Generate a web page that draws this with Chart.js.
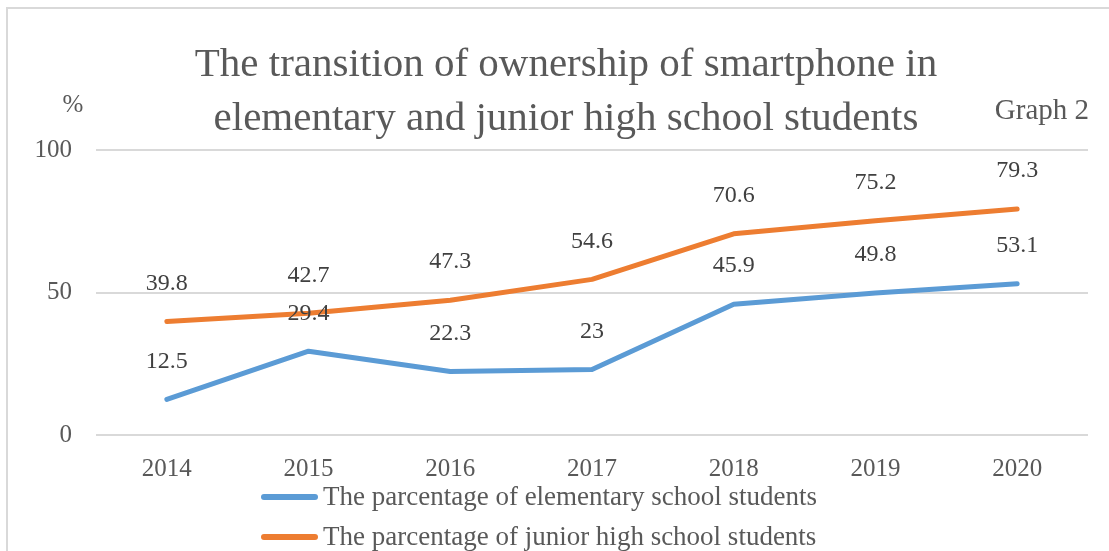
<!DOCTYPE html>
<html>
<head>
<meta charset="utf-8">
<script src="https://cdn.jsdelivr.net/npm/chart.js@4"></script>
<style>
  body { margin: 0; background: #fff; overflow: hidden; }
  #frame { position: absolute; left: 6px; top: 7px; width: 1300px; height: 700px; border: 2px solid #d9d9d9; }
  #wrap { position: absolute; left: 0; top: 0; }
</style>
</head>
<body>
<div id="frame"></div>
<div id="wrap"><canvas id="chart" width="1109" height="551"></canvas></div>
<script>
const years = ["2014", "2015", "2016", "2017", "2018", "2019", "2020"];
const elementary = [12.5, 29.4, 22.3, 23, 45.9, 49.8, 53.1];
const juniorHigh = [39.8, 42.7, 47.3, 54.6, 70.6, 75.2, 79.3];
const seriesNames = ["The parcentage of elementary school students", "The parcentage of junior high school students"];
const titleLines = ["The transition of ownership of smartphone in", "elementary and junior high school students"];
const yTicks = [0, 50, 100];

const FONT = "'Liberation Serif', 'DejaVu Serif', serif";
const GREY = "#595959";

// title, value labels, "%", "Graph 2" and the two-row legend
const extras = {
    id: "extras",
    afterDatasetsDraw(chart) {
        const ctx = chart.ctx;
        ctx.save();
        ctx.textAlign = "center";

        ctx.fillStyle = GREY;
        ctx.font = "41px " + FONT;
        ctx.textBaseline = "alphabetic";
        ctx.fillText(titleLines[0], 566, 76);
        ctx.fillText(titleLines[1], 566, 130);

        ctx.textBaseline = "middle";
        ctx.font = "24px " + FONT;
        ctx.fillStyle = "#404040";
        chart.data.datasets.forEach((ds, i) => {
            chart.getDatasetMeta(i).data.forEach((pt, j) => {
                ctx.fillText(String(ds.data[j]), pt.x, pt.y - 38);
            });
        });

        ctx.fillStyle = GREY;
        ctx.font = "25px " + FONT;
        ctx.fillText("%", 73, 105);
        ctx.textAlign = "right";
        ctx.font = "29px " + FONT;
        ctx.fillText("Graph 2", 1089, 111);

        // legend
        ctx.textAlign = "left";
        ctx.font = "27px " + FONT;
        ctx.lineCap = "round";
        ctx.lineWidth = 6;
        chart.data.datasets.forEach((ds, i) => {
            const y = 497 + i * 40;
            ctx.strokeStyle = ds.borderColor;
            ctx.beginPath();
            ctx.moveTo(264, y);
            ctx.lineTo(315, y);
            ctx.stroke();
            ctx.fillStyle = GREY;
            ctx.fillText(ds.label, 323, y + 1);
        });
        ctx.restore();
    }
};

new Chart(document.getElementById("chart"), {
    type: "line",
    data: {
        labels: years,
        datasets: [
            { label: seriesNames[0], data: elementary, borderColor: "#5b9bd5", backgroundColor: "#5b9bd5" },
            { label: seriesNames[1], data: juniorHigh, borderColor: "#ed7d31", backgroundColor: "#ed7d31" }
        ]
    },
    options: {
        responsive: false,
        animation: false,
        layout: { padding: { left: 0, right: 21, top: 150, bottom: 66 } },
        elements: {
            line: { borderWidth: 5, tension: 0, borderCapStyle: "round", borderJoinStyle: "round" },
            point: { radius: 0, hoverRadius: 0 }
        },
        scales: {
            x: {
                offset: true,
                afterFit: s => { s.height = 50; },
                grid: { display: false },
                border: { display: false },
                ticks: { color: GREY, font: { family: FONT, size: 25 }, padding: 11 }
            },
            y: {
                min: 0,
                max: 100,
                afterFit: s => { s.width = 96; },
                afterBuildTicks: s => { s.ticks = yTicks.map(v => ({ value: v })); },
                grid: { color: "#d9d9d9", lineWidth: 2, drawTicks: false },
                border: { display: false },
                ticks: { color: GREY, font: { family: FONT, size: 25 }, padding: 24 }
            }
        },
        plugins: {
            title: { display: false },
            legend: { display: false },
            tooltip: { enabled: false }
        }
    },
    plugins: [extras]
});
</script>
</body>
</html>
